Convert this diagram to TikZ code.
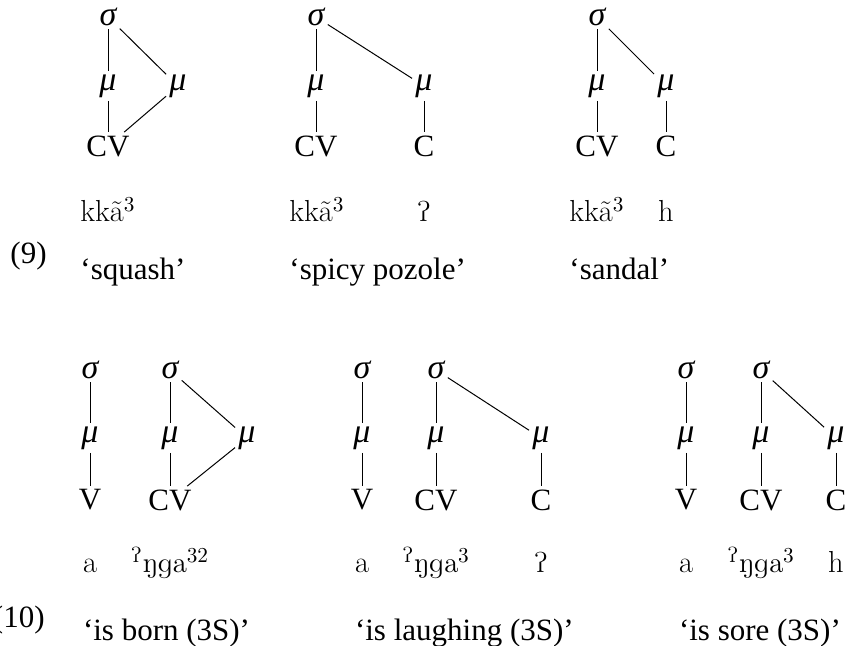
\documentclass[tikz,border=0pt]{standalone}
\usepackage{fontspec}
\setmainfont{Liberation Serif}
\newfontfamily\lmfont{Latin Modern Roman}
\usepackage{tipa}
\begin{document}
\begin{tikzpicture}[x=0.5pt,y=-0.5pt,
  lab/.style={inner sep=1.5pt, font=\fontsize{15.5}{18}\selectfont},
  gk/.style={inner sep=1.5pt, font=\fontsize{17}{20}\selectfont\itshape},
  tr/.style={inner sep=0pt, anchor=base, font=\fontsize{15.2}{18}\selectfont\lmfont},
  gl/.style={inner sep=0pt, anchor=base west, font=\fontsize{15.5}{18}\selectfont},
  num/.style={inner sep=0pt, anchor=base east, font=\fontsize{15.5}{18}\selectfont},
  ln/.style={line width=0.5pt}]
\useasboundingbox (0,0) rectangle (848,646);

% ---------- (9) tree 1 ----------
\node[gk] (a1s) at (108,17) {σ};
\node[gk] (a1m) at (108,86) {μ};
\node[gk] (a1n) at (178,86) {μ};
\node[lab] (a1c) at (108,146) {CV};
\draw[ln] (a1s) -- (a1m);
\draw[ln] (a1m) -- (a1c);
\draw[ln] (a1s) -- (a1n);
\draw[ln] (a1n) -- (a1c);
\node[tr] (a1t) at (108,222) {kkã\textsuperscript{3}};
\node[gl] (a1g) at (a1t.west |- 0,280) {‘squash’};

% ---------- tree 2 ----------
\node[gk] (a2s) at (316,17) {σ};
\node[gk] (a2m) at (316,86) {μ};
\node[gk] (a2n) at (424,86) {μ};
\node[lab] (a2c) at (316,146) {CV};
\node[lab] (a2d) at (424,146) {C};
\draw[ln] (a2s) -- (a2m);
\draw[ln] (a2m) -- (a2c);
\draw[ln] (a2s) -- (a2n);
\draw[ln] (a2n) -- (a2d);
\node[tr] (a2t) at (317,222) {kkã\textsuperscript{3}};
\node[tr] (a2u) at (424,222) {\textipa{P}};
\node[gl] (a2g) at (a2t.west |- 0,280) {‘spicy pozole’};

% ---------- tree 3 ----------
\node[gk] (a3s) at (597,17) {σ};
\node[gk] (a3m) at (597,86) {μ};
\node[gk] (a3n) at (666,86) {μ};
\node[lab] (a3c) at (597,146) {CV};
\node[lab] (a3d) at (666,146) {C};
\draw[ln] (a3s) -- (a3m);
\draw[ln] (a3m) -- (a3c);
\draw[ln] (a3s) -- (a3n);
\draw[ln] (a3n) -- (a3d);
\node[tr] (a3t) at (597,222) {kkã\textsuperscript{3}};
\node[tr] (a3u) at (666,222) {h};
\node[gl] (a3g) at (a3t.west |- 0,280) {‘sandal’};

\node[num] (n9) at (47,264) {(9)};

% ---------- (10) tree 4 ----------
\node[gk] (b1s) at (90,370) {σ};
\node[gk] (b1r) at (170,370) {σ};
\node[gk] (b1m) at (90,438) {μ};
\node[gk] (b1n) at (170,438) {μ};
\node[gk] (b1o) at (247,438) {μ};
\node[lab] (b1v) at (90,500) {V};
\node[lab] (b1c) at (170,500) {CV};
\draw[ln] (b1s) -- (b1m);
\draw[ln] (b1m) -- (b1v);
\draw[ln] (b1r) -- (b1n);
\draw[ln] (b1n) -- (b1c);
\draw[ln] (b1r) -- (b1o);
\draw[ln] (b1o) -- (b1c);
\node[tr] (b1t) at (90,573) {a};
\node[tr] (b1u) at (170,573) {\textipa{\textsuperscript{P}Nga}\textsuperscript{32}};
\node[gl] (b1g) at (b1t.west |- 0,641) {‘is born (3S)’};

% ---------- tree 5 ----------
\node[gk] (b2s) at (362,370) {σ};
\node[gk] (b2r) at (436,370) {σ};
\node[gk] (b2m) at (362,438) {μ};
\node[gk] (b2n) at (436,438) {μ};
\node[gk] (b2o) at (541,438) {μ};
\node[lab] (b2v) at (362,500) {V};
\node[lab] (b2c) at (436,500) {CV};
\node[lab] (b2d) at (541,500) {C};
\draw[ln] (b2s) -- (b2m);
\draw[ln] (b2m) -- (b2v);
\draw[ln] (b2r) -- (b2n);
\draw[ln] (b2n) -- (b2c);
\draw[ln] (b2r) -- (b2o);
\draw[ln] (b2o) -- (b2d);
\node[tr] (b2t) at (362,573) {a};
\node[tr] (b2u) at (436,573) {\textipa{\textsuperscript{P}Nga}\textsuperscript{3}};
\node[tr] (b2w) at (541,573) {\textipa{P}};
\node[gl] (b2g) at (b2t.west |- 0,641) {‘is laughing (3S)’};

% ---------- tree 6 ----------
\node[gk] (b3s) at (686,370) {σ};
\node[gk] (b3r) at (761,370) {σ};
\node[gk] (b3m) at (686,438) {μ};
\node[gk] (b3n) at (761,438) {μ};
\node[gk] (b3o) at (836,438) {μ};
\node[lab] (b3v) at (686,500) {V};
\node[lab] (b3c) at (761,500) {CV};
\node[lab] (b3d) at (836,500) {C};
\draw[ln] (b3s) -- (b3m);
\draw[ln] (b3m) -- (b3v);
\draw[ln] (b3r) -- (b3n);
\draw[ln] (b3n) -- (b3c);
\draw[ln] (b3r) -- (b3o);
\draw[ln] (b3o) -- (b3d);
\node[tr] (b3t) at (686,573) {a};
\node[tr] (b3u) at (761,573) {\textipa{\textsuperscript{P}Nga}\textsuperscript{3}};
\node[tr] (b3w) at (836,573) {h};
\node[gl] (b3g) at (b3t.west |- 0,641) {‘is sore (3S)’};

\node[num] (n10) at (45,628) {(10)};
\end{tikzpicture}
\end{document}
